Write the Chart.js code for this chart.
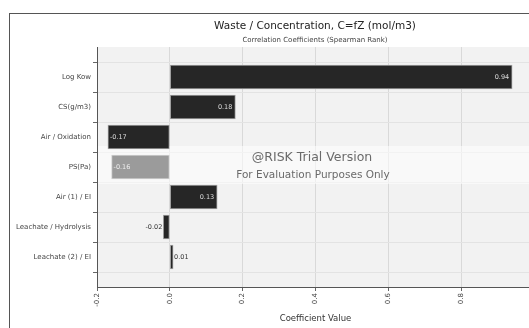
<!DOCTYPE html>
<html>
<head>
<meta charset="utf-8">
<script src="https://cdn.jsdelivr.net/npm/chart.js@4"></script>
<style>
  html, body { margin: 0; padding: 0; background: #fff; overflow: hidden; }
  canvas { display: block; }
</style>
</head>
<body>
<canvas id="tornado" width="545" height="328"></canvas>
<script>
// inputs ranked by Spearman correlation
const inputs = ['Log Kow', 'CS(g/m3)', 'Air / Oxidation', 'PS(Pa)', 'Air (1) / EI', 'Leachate / Hydrolysis', 'Leachate (2) / EI'];
const coefficients = [0.94, 0.18, -0.17, -0.16, 0.13, -0.018, 0.009];
const xTicks = [-0.2, 0.0, 0.2, 0.4, 0.6, 0.8, 1.0];
const highlighted = 'PS(Pa)';

const FONT = "'DejaVu Sans', Verdana, sans-serif";

// pad with an empty slot top and bottom so the bars sit on whole steps
const labels = [''].concat(inputs, ['']);
const values = [null].concat(coefficients, [null]);
const fills = labels.map(l => l === highlighted ? '#9b9b9b' : '#262626');
const edges = labels.map(l => l === highlighted ? '#cfcfcf' : '#a0a0a0');

const framePlugin = {
    id: 'frame',
    beforeDraw(chart) {
        const ctx = chart.ctx;
        const a = chart.chartArea;
        ctx.save();
        ctx.fillStyle = '#fff';
        ctx.fillRect(0, 0, chart.width, chart.height);
        ctx.strokeStyle = '#555';
        ctx.lineWidth = 1;
        ctx.strokeRect(9.5, 13.5, chart.width + 20, chart.height + 20);
        ctx.fillStyle = '#f2f2f2';
        ctx.fillRect(a.left, a.top, a.right - a.left, a.bottom - a.top);
        ctx.restore();
    },
    beforeDatasetsDraw(chart) {
        // faint band behind the trial watermark
        const ctx = chart.ctx;
        const a = chart.chartArea;
        ctx.save();
        ctx.fillStyle = 'rgba(255,255,255,0.55)';
        ctx.fillRect(a.left + 1, 146, a.right - a.left, 38);
        ctx.restore();
    },
    afterDraw(chart) {
        const ctx = chart.ctx;
        const meta = chart.getDatasetMeta(0);
        ctx.save();

        // titles
        ctx.textAlign = 'center';
        ctx.textBaseline = 'middle';
        ctx.fillStyle = '#222';
        ctx.font = '10.5px ' + FONT;
        ctx.fillText('Waste / Concentration, C=fZ (mol/m3)', 315, 26);
        ctx.fillStyle = '#444';
        ctx.font = '7px ' + FONT;
        ctx.fillText('Correlation Coefficients (Spearman Rank)', 315, 40);

        // watermark
        ctx.fillStyle = '#6a6a6a';
        ctx.font = '12.5px ' + FONT;
        ctx.fillText('@RISK Trial Version', 312, 158);
        ctx.font = '10.5px ' + FONT;
        ctx.fillText('For Evaluation Purposes Only', 313, 175);

        // value labels
        ctx.font = '6.5px ' + FONT;
        meta.data.forEach((bar, i) => {
            const v = values[i];
            if (v === null) return;
            const txt = v.toFixed(2);
            const small = Math.abs(v) < 0.05;
            if (small) {
                ctx.fillStyle = '#333';
                if (v < 0) {
                    ctx.textAlign = 'right';
                    ctx.fillText(txt, bar.x - 1, bar.y);
                } else {
                    ctx.textAlign = 'left';
                    ctx.fillText(txt, bar.x + 1, bar.y);
                }
            } else {
                ctx.fillStyle = labels[i] === highlighted ? '#eee' : '#ddd';
                if (v < 0) {
                    ctx.textAlign = 'left';
                    ctx.fillText(txt, bar.x + 2, bar.y);
                } else {
                    ctx.textAlign = 'right';
                    ctx.fillText(txt, bar.x - 3, bar.y);
                }
            }
        });
        ctx.restore();
    }
};

new Chart(document.getElementById('tornado'), {
    type: 'bar',
    data: {
        labels: labels,
        datasets: [{
            data: values,
            backgroundColor: fills,
            borderColor: edges,
            borderWidth: 1,
            borderSkipped: false,
            barThickness: 24
        }]
    },
    options: {
        indexAxis: 'y',
        responsive: false,
        animation: false,
        layout: { padding: { top: 47, right: 11, left: 0, bottom: 0 } },
        plugins: {
            legend: { display: false },
            tooltip: { enabled: false }
        },
        scales: {
            x: {
                min: xTicks[0],
                max: xTicks[xTicks.length - 1],
                afterBuildTicks(scale) {
                    scale.ticks = xTicks.map(v => ({ value: v }));
                },
                afterFit(scale) { scale.height = 41; },
                border: { color: '#555', width: 1 },
                grid: { color: '#d9d9d9', tickColor: '#666', tickLength: 4 },
                ticks: {
                    minRotation: 90,
                    maxRotation: 90,
                    padding: 2,
                    color: '#444',
                    font: { family: FONT, size: 7 },
                    callback: v => Number(v).toFixed(1)
                },
                title: {
                    display: true,
                    text: 'Coefficient Value',
                    color: '#333',
                    font: { family: FONT, size: 8.5 },
                    padding: { top: 0, bottom: 4 }
                }
            },
            y: {
                offset: false,
                afterFit(scale) { scale.width = 97; },
                border: { color: '#555', width: 1 },
                grid: { color: '#e3e3e3', tickColor: '#666', tickLength: 4 },
                ticks: {
                    autoSkip: false,
                    padding: 2,
                    color: '#444',
                    font: { family: FONT, size: 7 }
                }
            }
        }
    },
    plugins: [framePlugin]
});
</script>
</body>
</html>
